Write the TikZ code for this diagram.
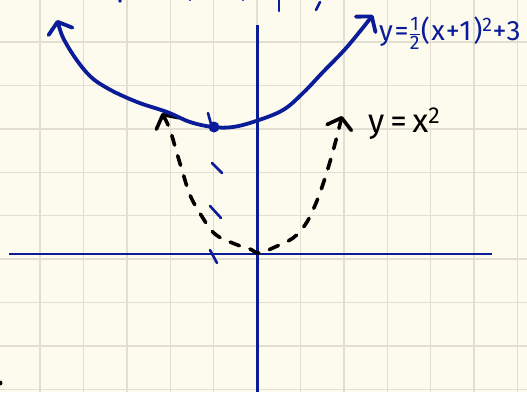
\documentclass[tikz,border=0pt]{standalone}
\usepackage{fontspec}
\usepackage{amsmath}
\setmainfont{Fira Sans}
\newfontfamily\penfont[LetterSpace=6]{Fira Sans}
\newfontfamily\widepenfont[LetterSpace=18]{Fira Sans}
\usetikzlibrary{arrows.meta, positioning}
\definecolor{paper}{HTML}{FDFBEE}
\definecolor{gridline}{HTML}{E2DFD2}
\definecolor{ink}{HTML}{0B1C98}
\tikzset{
  gridrule/.style={draw=gridline, line width=1.4pt},
  axis/.style={draw=ink, line width=2.6pt},
  handtip/.tip={Straight Barb[length=10pt, width=25pt, round]},
  shifted/.style={draw=ink, line width=3.8pt, line cap=round, line join=round, handtip-handtip},
  basecurve/.style={draw=black, line width=3.6pt, line cap=round, dash pattern=on 10pt off 11pt, handtip-handtip},
  symdash/.style={draw=ink, line width=2.6pt, line cap=round},
  pentext/.style={font=\penfont\fontsize{28}{30}\selectfont, inner sep=0pt, anchor=west},
  widepentext/.style={font=\widepenfont\fontsize{33}{35}\selectfont, inner sep=0pt, anchor=west}
}

\begin{document}
\begin{tikzpicture}[x=1pt, y=-1pt]
    \path[use as bounding box, fill=paper] (0,0) rectangle (527,392);
    \clip (0,0) rectangle (527,392);
    % grid
    \foreach \gx in {40,83.4,...,520} \draw[gridrule] (\gx,0) -- (\gx,392);
    \foreach \gy in {42,85.4,...,392} \draw[gridrule] (0,\gy) -- (527,\gy);
    % axes
    \draw[axis] (257.5,25) -- (257.5,392);
    \draw[axis] (9,254) -- (492,254);
    % y = x^2
    \draw[basecurve] plot[smooth, tension=0.6] coordinates {(162,113) (170,130) (176,150) (182,170) (190,195) (201,215) (215,234) (235,244) (250,249) (259,253) (275,247) (293,238) (305,225) (313,210) (321,190) (329,165) (336,140) (342,116)};
    % shifted parabola
    \draw[shifted] plot[smooth, tension=0.6] coordinates {(57,20) (67,45) (87,73) (107,88) (137,102) (167,112) (190,122) (213,127) (233,127) (256,121) (283,110) (303,93) (323,72) (347,47) (373,15)};
    \coordinate (vertex) at (214,127);
    \fill[ink] (vertex) circle (5.5);
    % axis of symmetry
    \draw[symdash] (208,113) -- (211,124);
    \draw[symdash] (212,163) -- (222,173);
    \draw[symdash] (210,206) -- (221,218);
    \draw[symdash] (210,250) -- (217,263);
    % cut-off marks at the edges
    \fill[ink] (120,1) circle (1.8);
    \fill[ink] (190,0) circle (1.2);
    \fill[ink] (243,0) circle (1.2);
    \draw[symdash] (279,0) -- (279,11);
    \draw[symdash] (320,2) -- (316,10);
    \fill[black] (0,383) circle (2.5);
    % labels
    \node[pentext, text=ink] (shiftname) at (379,33) {y=$\frac{\text{1}}{\text{2}}$(x+1)\textsuperscript{2}+3};
    \node[widepentext] (basename) at (368,124) {y=x\textsuperscript{2}};
\end{tikzpicture}
\end{document}
